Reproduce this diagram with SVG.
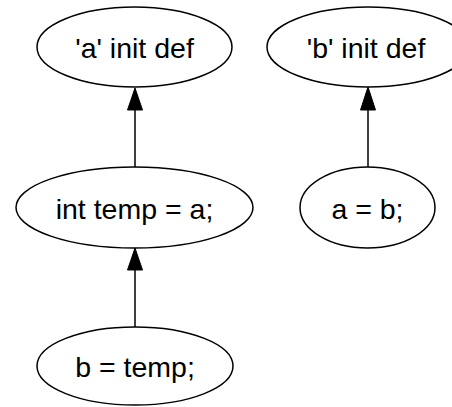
<svg xmlns="http://www.w3.org/2000/svg" width="452" height="407" viewBox="0 0 452 407">
<defs>
<style>
.node ellipse{fill:#fff;stroke:#000;stroke-width:1.5}
.node text{font-family:"Liberation Sans",Arial,sans-serif;font-size:28.5px;fill:#000;text-anchor:middle}
.edge line{stroke:#000;stroke-width:1.5}
.edge polygon{fill:#000;stroke:#000;stroke-width:1}
</style>
</defs>
<rect width="452" height="407" fill="#fff"/>
<g id="connectors">
<g class="edge"><line x1="135" y1="167" x2="135" y2="108"/><polygon points="135,88 127.5,110 142.5,110"/></g>
<g class="edge"><line x1="368" y1="167" x2="368" y2="108"/><polygon points="368,87 360.5,110 375.5,110"/></g>
<g class="edge"><line x1="135" y1="327" x2="135" y2="268"/><polygon points="135,248 127.5,270 142.5,270"/></g>
</g>
<g id="a_init" class="node"><ellipse cx="134.5" cy="47" rx="97.5" ry="40"/><text x="134.5" y="58">'a' init def</text></g>
<g id="b_init" class="node"><ellipse cx="368" cy="47" rx="101" ry="40"/><text x="366" y="58">'b' init def</text></g>
<g id="int_temp" class="node"><ellipse cx="134.5" cy="207.5" rx="118.5" ry="40.5"/><text x="134.5" y="218.5">int temp = a;</text></g>
<g id="a_eq_b" class="node"><ellipse cx="367.5" cy="207.5" rx="67.5" ry="40.5"/><text x="367.5" y="218.5">a = b;</text></g>
<g id="b_eq_temp" class="node"><ellipse cx="135" cy="366" rx="98" ry="39"/><text x="135" y="377">b = temp;</text></g>
</svg>
